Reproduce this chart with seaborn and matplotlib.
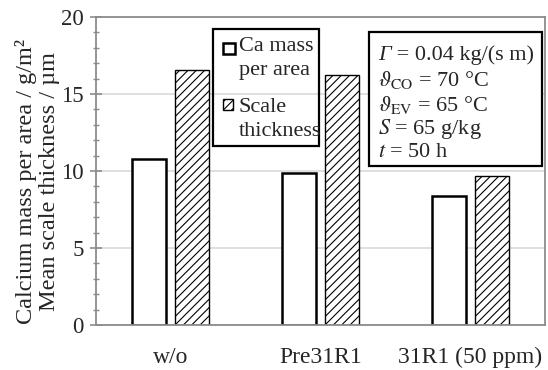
import matplotlib
matplotlib.use("Agg")
import matplotlib.pyplot as plt
from matplotlib.patches import Rectangle
from matplotlib.ticker import MultipleLocator
import seaborn as sns
import pandas as pd

# ---- data ----
conditions = ["w/o", "Pre31R1", "31R1 (50 ppm)"]
ca_mass = [10.8, 9.85, 8.4]          # g/m^2
scale_thickness = [16.55, 16.25, 9.7]  # µm
series_names = ["Ca mass per area", "Scale thickness"]
legend_labels = ["Ca mass\nper area", "Scale\nthickness"]
info_symbols = ["Γ", None, None, None, None]
info_lines = [" = 0.04 kg/(s m)",
              r"$\vartheta_{\mathrm{CO}}$ = 70 °C",
              r"$\vartheta_{\mathrm{EV}}$ = 65 °C",
              r"$S$ = 65 g/kg",
              r"$t$ = 50 h"]
ylabel = "Calcium mass per area / g/m²\nMean scale thickness / µm"
yticks = [0, 5, 10, 15, 20]

df = pd.DataFrame({
    "condition": conditions * 2,
    "value": ca_mass + scale_thickness,
    "series": [series_names[0]] * 3 + [series_names[1]] * 3,
})

sns.set_style("white")
plt.rcParams["font.family"] = ["Liberation Serif", "DejaVu Serif"]
plt.rcParams["mathtext.fontset"] = "stix"
plt.rcParams["hatch.linewidth"] = 0.8
plt.rcParams["hatch.color"] = "black"
FS = 16

W, H = 548, 370
fig = plt.figure(figsize=(W / 100, H / 100), dpi=100)
L, R, T, B = 96, 545, 17, 325
ax = fig.add_axes([L / W, (H - B) / H, (R - L) / W, (B - T) / H])

sns.barplot(data=df, x="condition", y="value", hue="series", order=conditions,
            hue_order=series_names, palette=["white", "white"], edgecolor="black",
            linewidth=1.8, width=0.572, gap=0.206, legend=False, ax=ax,
            errorbar=None, saturation=1)

for p in ax.patches:
    cx = p.get_x() + p.get_width() / 2
    if cx - round(cx) > 0:
        p.set_hatch("////")
        p.set_linewidth(1.0)

ax.set_xlim(-0.5, 2.5)
ax.set_ylim(0, 20)
ax.set_yticks(yticks)
ax.yaxis.set_minor_locator(MultipleLocator(1))
ax.yaxis.grid(True, which="major", color="#d9d9d9", lw=1.2)
ax.set_axisbelow(True)
for s in ax.spines.values():
    s.set_visible(True)
    s.set_color("#8c8c8c")
    s.set_linewidth(1.3)
ax.tick_params(axis="y", which="major", direction="inout", length=8, width=1.2,
               color="#8c8c8c", labelsize=16.5, pad=5, left=True)
ax.tick_params(axis="y", which="minor", direction="inout", length=5, width=1.0,
               color="#8c8c8c", left=True)
ax.tick_params(axis="x", length=0, labelsize=17, pad=16)
ax.set_xlabel("")
ax.set_ylabel(ylabel, fontsize=17.5, linespacing=1.1)
ax.yaxis.set_label_coords(-0.08, 0.465)

def axc(px, py):
    return ((px - L) / (R - L), (B - py) / (B - T))

# legend (manual)
x0, y0 = axc(213, 146)
x1, y1 = axc(319, 29)
ax.add_patch(Rectangle((x0, y0), x1 - x0, y1 - y0, transform=ax.transAxes,
                       fill=False, edgecolor="black", lw=1.6, zorder=5, clip_on=False))
sq = [(223, 43, 12, 11, "", 1.8), (223, 99, 10, 11, "////", 1.0)]
for (sx, sy, sw, sh, hatch, lw) in sq:
    a0 = axc(sx, sy + sh)
    a1 = axc(sx + sw, sy)
    ax.add_patch(Rectangle(a0, a1[0] - a0[0], a1[1] - a0[1], transform=ax.transAxes,
                           facecolor="white", edgecolor="black", hatch=hatch, lw=lw,
                           zorder=6, clip_on=False))
for lab, ty in zip(legend_labels, [37, 98]):
    ax.text(*axc(239, ty), lab, transform=ax.transAxes, fontsize=FS, ha="left",
            va="top", linespacing=1.35, zorder=6)

# info box
x0, y0 = axc(369, 166)
x1, y1 = axc(542, 32)
ax.add_patch(Rectangle((x0, y0), x1 - x0, y1 - y0, transform=ax.transAxes,
                       facecolor="white", edgecolor="black", lw=1.6, zorder=5, clip_on=False))
for sym, line, by in zip(info_symbols, info_lines, [60, 86, 111, 134, 157]):
    if sym is not None:
        t1 = ax.text(*axc(378, by), sym, transform=ax.transAxes, fontsize=FS,
                     fontstyle="italic", ha="left", va="baseline", zorder=6)
        ax.annotate(line, xy=(1, 0), xycoords=t1, fontsize=FS, ha="left",
                    va="bottom", zorder=6)
    else:
        ax.text(*axc(378, by), line, transform=ax.transAxes, fontsize=FS, ha="left",
                va="baseline", zorder=6)

fig.savefig("out.png", dpi=100)
